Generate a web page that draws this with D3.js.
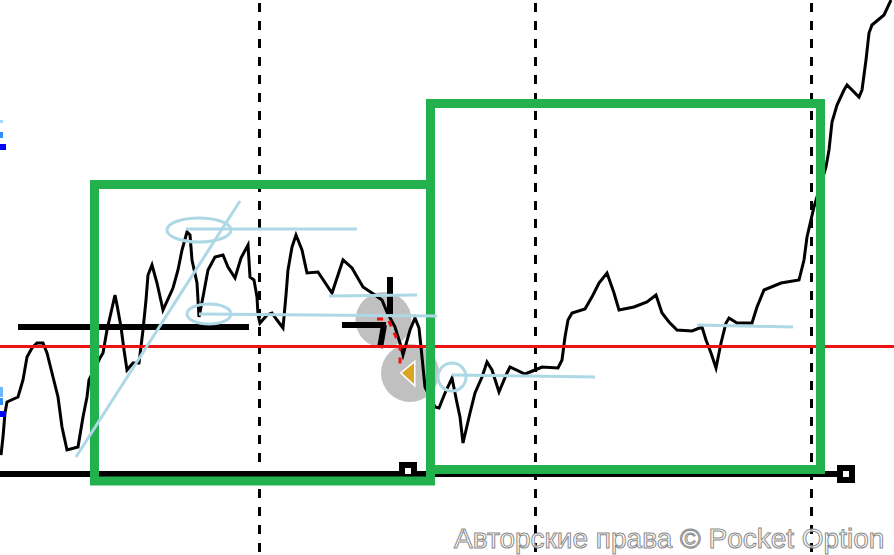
<!DOCTYPE html>
<html><head><meta charset="utf-8">
<style>html,body{margin:0;padding:0;background:#fff;overflow:hidden}svg{display:block}</style>
<script src="https://cdn.jsdelivr.net/npm/d3@7/dist/d3.min.js"></script>
</head><body><svg id="c" width="894" height="555"></svg>
<script>
const barTimes=[1,3,5,7,18,23,27,32,37,43,47,52,58,62,67,78,83,87,89,100,103,107,110,115,117,121,124,127,133,139,143,146,148,152,157,163,173,178,182,187,190,192,197,199,203,208,215,223,228,235,241,248,250,254,257,258,260,267,272,277,283,286,288,292,296,302,307,318,332,343,352,363,372,382,387,395,400,403,410,415,419,421,425,435,439,445,452,457,460,463,470,475,482,487,492,499,507,510,525,535,542,558,562,565,568,572,585,593,599,607,614,619,634,647,656,662,669,677,692,702,706,711,716,721,726,729,737,752,757,764,781,799,804,807,814,826,829,832,837,844,847,859,862,866,869,872,884,891];
const priceLevels=[19,37,61,72,77,94,117,126,131,131,121,101,77,47,24,27,57,77,94,116,121,144,157,179,169,147,124,104,111,111,144,174,199,209,191,164,186,204,224,242,239,214,191,157,177,204,217,219,207,196,216,229,197,194,177,159,151,159,161,154,146,179,204,227,239,224,201,202,181,214,206,187,181,174,162,147,131,119,144,156,146,127,87,67,66,81,96,71,57,31,61,81,97,112,104,82,101,107,100,104,107,106,114,137,154,161,165,179,191,201,181,164,167,172,179,161,152,144,143,147,134,121,106,131,151,156,151,151,167,184,191,194,214,237,267,307,324,352,369,384,389,377,384,414,441,449,459,474];
const sessionTimes=[259.5,535.5,811.5];
const redLevel=127.5;
const baseLevel=0;
const supportLine=[[18,147],[249,147]];
const boxes=[[94.5,430.5,289.5,-7],[430.5,820.5,370.5,4.5]];
const baseMarkers=[[408,3],[846,0]];
const trendLine=[[76,17],[240,273]];
const levelLines=[[[186,245],[357,245]],[[199,160],[437,158]],[[329,178],[417,179]],[[452,99],[595,97]],[[697,149],[793,147]]];
const ellipses=[[199,244,32,12],[209,160,22,10],[452,97,14,14]];
const greyDiscs=[[383.5,154,28],[410,101,29]];
const crossBars=[[[342,149],[386,149]],[[390,197],[390,160]],[[380,126],[384,149]]];
const redDashes=[[377,155],[388,155],[400,128],[400,109]];
const arrowPoints=[[402,101],[414,111],[414,90]];
const blueMarks=[[0,3,354,351,"#9fd8ff"],[0,3,342,336,"#2f8fff"],[0,6,330,324,"#0000ff"],[0,3,87,77,"#6fb8ff"],[0,3,76,69,"#2f8fff"],[0,6,63,57,"#0000ff"]];
const watermark="Авторские права © Pocket Option";

const W=894,H=555;
const x=d3.scaleLinear().domain([0,894]).range([0,W]);
const y=d3.scaleLinear().domain([-81,474]).range([H,0]);
const pathLine=d3.line().x(d=>x(d[0])).y(d=>y(d[1]));
const svg=d3.select("#c");

svg.selectAll(".disc").data(greyDiscs).join("circle").attr("cx",d=>x(d[0])).attr("cy",d=>y(d[1])).attr("r",d=>d[2]).attr("fill","#c0c0c0");
svg.selectAll(".sess").data(sessionTimes).join("line").attr("x1",d=>x(d)).attr("x2",d=>x(d)).attr("y1",0).attr("y2",H)
  .attr("stroke","#000").attr("stroke-width",3).attr("stroke-dasharray","9 9").attr("stroke-dashoffset",15);
svg.append("line").attr("x1",x(0)).attr("x2",x(846)).attr("y1",y(baseLevel)).attr("y2",y(baseLevel)).attr("stroke","#000").attr("stroke-width",6);
svg.selectAll(".mk").data(baseMarkers).join("rect").attr("x",d=>x(d[0])-6).attr("y",d=>y(d[1])-6).attr("width",12).attr("height",12)
  .attr("fill","#fff").attr("stroke","#000").attr("stroke-width",6);
svg.append("path").attr("d",pathLine(supportLine)).attr("stroke","#000").attr("stroke-width",6).attr("fill","none");
const price=barTimes.map((t,i)=>[t,priceLevels[i]]);
svg.append("path").attr("d",pathLine(price)).attr("fill","none").attr("stroke","#000").attr("stroke-width",3);
svg.append("g").selectAll("path").data(crossBars).join("path").attr("d",d=>pathLine(d)).attr("stroke","#000").attr("stroke-width",6).attr("fill","none");
svg.append("path").attr("d",pathLine(redDashes)).attr("fill","none").attr("stroke","#ee1111").attr("stroke-width",3).attr("stroke-dasharray","6 7");
svg.append("line").attr("x1",0).attr("x2",W).attr("y1",y(redLevel)).attr("y2",y(redLevel)).attr("stroke","#ee1111").attr("stroke-width",3).attr("shape-rendering","crispEdges");
svg.append("polygon").attr("points",arrowPoints.map(p=>[x(p[0]),y(p[1])].join(",")).join(" ")).attr("fill","#daa520").attr("stroke","#fff").attr("stroke-width",3).attr("paint-order","stroke");
svg.append("g").selectAll("rect").data(blueMarks).join("rect").attr("x",d=>x(d[0])).attr("width",d=>x(d[1])-x(d[0])).attr("y",d=>y(d[2])).attr("height",d=>y(d[3])-y(d[2])).attr("fill",d=>d[4]);
svg.append("g").selectAll("rect").data(boxes).join("rect").attr("x",d=>x(d[0])).attr("width",d=>x(d[1])-x(d[0])).attr("y",d=>y(d[2])).attr("height",d=>y(d[3])-y(d[2]))
  .attr("fill","none").attr("stroke","#22b14c").attr("stroke-width",9);
const blue="#add8e6";
svg.append("path").attr("d",pathLine(trendLine)).attr("stroke",blue).attr("stroke-width",3).attr("fill","none");
svg.append("g").selectAll("path").data(levelLines).join("path").attr("d",d=>pathLine(d)).attr("stroke",blue).attr("stroke-width",3).attr("fill","none");
svg.append("g").selectAll("ellipse").data(ellipses).join("ellipse").attr("cx",d=>x(d[0])).attr("cy",d=>y(d[1])).attr("rx",d=>d[2]).attr("ry",d=>d[3]).attr("fill","none").attr("stroke",blue).attr("stroke-width",3);
svg.append("text").attr("x",454).attr("y",548).text(watermark).attr("font-family","'Liberation Sans',Arial,sans-serif").attr("font-size",28)
  .attr("fill","#fff").attr("fill-opacity",0.75).attr("stroke","#8a8a8a").attr("stroke-width",1);
</script></body></html>
